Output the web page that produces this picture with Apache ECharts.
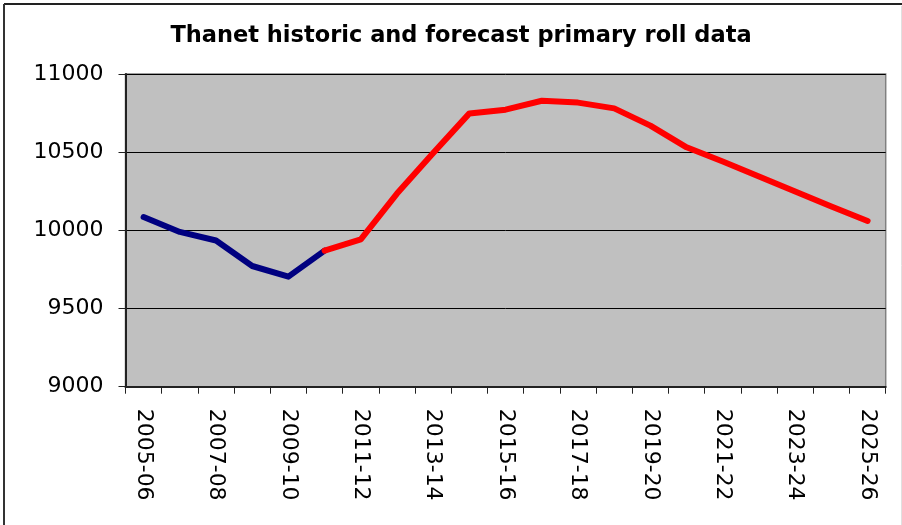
<!DOCTYPE html>
<html>
<head>
<meta charset="utf-8">
<script src="https://cdn.jsdelivr.net/npm/echarts@6/dist/echarts.min.js"></script>
<style>
  html, body { margin: 0; padding: 0; background: #fff; }
  #chart { width: 902px; height: 525px; }
</style>
</head>
<body>
<div id="chart"></div>
<script>
// School years on the x axis
const years = [
  '2005-06', '2006-07', '2007-08', '2008-09', '2009-10', '2010-11', '2011-12',
  '2012-13', '2013-14', '2014-15', '2015-16', '2016-17', '2017-18', '2018-19',
  '2019-20', '2020-21', '2021-22', '2022-23', '2023-24', '2024-25', '2025-26'
];

// Historic primary roll (actual counts)
const historic = [10085, 9990, 9935, 9772, 9704, 9870,
  null, null, null, null, null, null, null, null, null, null, null, null, null, null, null];

// Forecast primary roll, continuing from the last historic year
const forecast = [null, null, null, null, null, 9870,
  9942, 10235, 10495, 10748, 10772, 10829, 10817, 10780, 10670,
  10531, 10440, 10344, 10248, 10152, 10060];

// Value axis range
const yMin = 9000;
const yMax = 11000;
const yStep = 500;

const FONT = 'DejaVu Sans';

const chart = echarts.init(document.getElementById('chart'), null, { renderer: 'canvas' });

chart.setOption({
  backgroundColor: '#ffffff',
  animation: false,
  title: {
    text: 'Thanet historic and forecast primary roll data',
    left: 456,
    top: 20,
    textAlign: 'center',
    textStyle: {
      fontFamily: FONT,
      fontWeight: 'bold',
      fontSize: 22.5,
      color: '#000'
    }
  },
  graphic: [
    { type: 'line', shape: { x1: 4, y1: 4, x2: 902, y2: 4 }, style: { stroke: '#222', lineWidth: 2 } },
    { type: 'line', shape: { x1: 4, y1: 4, x2: 4, y2: 525 }, style: { stroke: '#333', lineWidth: 2 } },
    { type: 'line', shape: { x1: 901.5, y1: 6, x2: 901.5, y2: 525 }, style: { stroke: '#e0e0e0', lineWidth: 1 } }
  ],
  grid: {
    left: 125.5,
    right: 16.3,
    top: 74,
    bottom: 138.3,
    show: true,
    backgroundColor: '#C0C0C0',
    borderColor: '#808080',
    borderWidth: 1.5
  },
  xAxis: {
    type: 'category',
    data: years,
    boundaryGap: true,
    axisLine: { lineStyle: { color: '#222', width: 2 } },
    axisTick: { show: true, interval: 0, length: 7, lineStyle: { color: '#222', width: 1 } },
    axisLabel: {
      interval: 1,
      rotate: -90,
      margin: 22,
      fontFamily: FONT,
      fontSize: 22,
      color: '#000'
    },
    splitLine: { show: false }
  },
  yAxis: {
    type: 'value',
    min: yMin,
    max: yMax,
    interval: yStep,
    axisLine: { show: true, lineStyle: { color: '#222', width: 2 } },
    axisTick: { show: true, length: 7, lineStyle: { color: '#222', width: 1 } },
    axisLabel: {
      margin: 22,
      fontFamily: FONT,
      fontSize: 22,
      color: '#000',
      formatter: (v) => String(v)
    },
    splitLine: { show: true, lineStyle: { color: '#000', width: 1 } }
  },
  series: [
    {
      name: 'Historic',
      type: 'line',
      data: historic,
      symbol: 'none',
      connectNulls: false,
      lineStyle: { color: '#000080', width: 6, cap: 'round', join: 'round' },
      z: 3
    },
    {
      name: 'Forecast',
      type: 'line',
      data: forecast,
      symbol: 'none',
      connectNulls: false,
      lineStyle: { color: '#FF0000', width: 6, cap: 'round', join: 'round' },
      z: 4
    }
  ]
});
</script>
</body>
</html>
